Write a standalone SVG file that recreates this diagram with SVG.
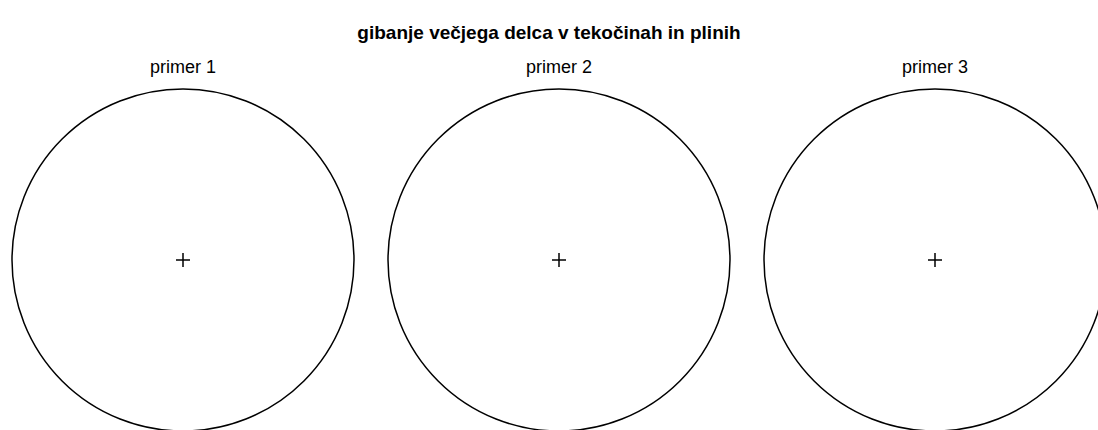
<svg xmlns="http://www.w3.org/2000/svg" width="1098" height="430" viewBox="0 0 1098 430">
<style>
.t{font-family:"Liberation Sans",Arial,sans-serif;fill:#000;text-anchor:middle}
.title{font-size:19px;font-weight:bold}
.lbl{font-size:18px}
.c{fill:none;stroke:#000;stroke-width:1.5}
.x{stroke:#000;stroke-width:1.5}
</style>
<rect width="1098" height="430" fill="#fff"/>
<text class="t title" x="549" y="39">gibanje večjega delca v tekočinah in plinih</text>
<g id="primer1">
<text class="t lbl" x="183" y="73">primer 1</text>
<circle class="c" cx="183" cy="260" r="171"/>
<path class="x" d="M176 260H190M183 253V267"/>
</g>
<g id="primer2">
<text class="t lbl" x="559" y="73">primer 2</text>
<circle class="c" cx="559" cy="260" r="171"/>
<path class="x" d="M552 260H566M559 253V267"/>
</g>
<g id="primer3">
<text class="t lbl" x="935" y="73">primer 3</text>
<circle class="c" cx="935" cy="260" r="171"/>
<path class="x" d="M928 260H942M935 253V267"/>
</g>
<g id="connectors"/>
</svg>
